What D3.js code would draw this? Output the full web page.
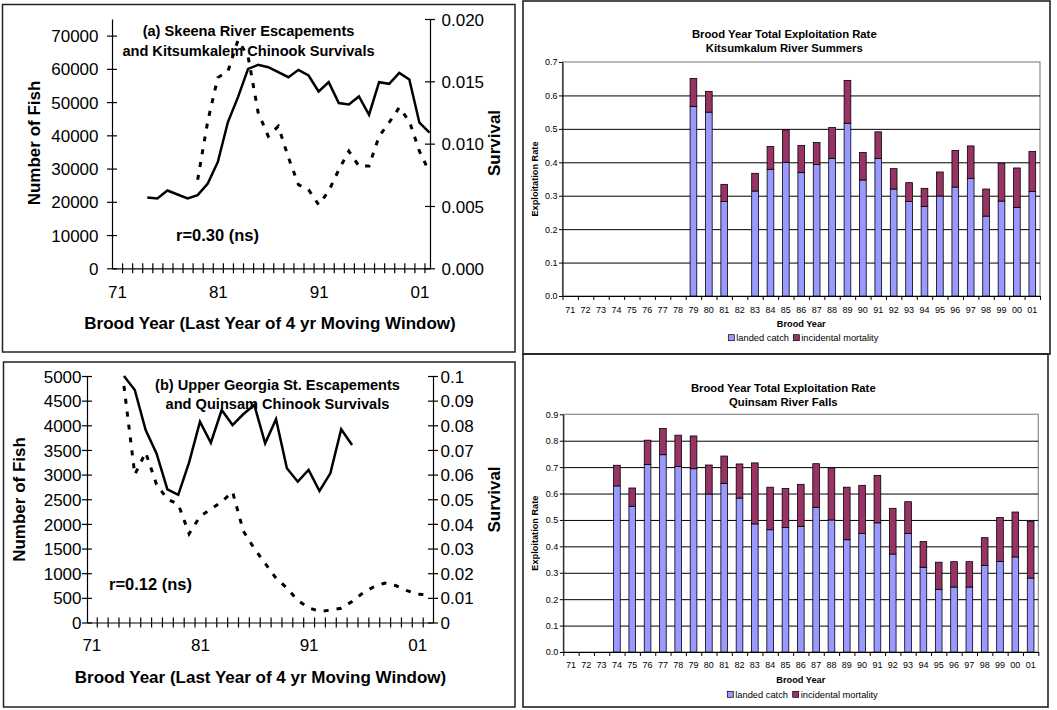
<!DOCTYPE html>
<html><head><meta charset="utf-8">
<script src="https://cdn.jsdelivr.net/npm/d3@7"></script>
<style>
body{margin:0;background:#fff;}
svg{display:block;}
text{font-family:"Liberation Sans",Arial,sans-serif;fill:#000;}
</style>
</head><body>
<svg id="c" width="1057" height="710"></svg>
<script>
// ---------------- DATA ----------------
// (a) Skeena escapement (4-yr moving window) and Kitsumkalum survival
const escYearsA = d3.range(74, 103);
const escapementA = [21300,21000,23400,22200,21000,22000,25500,32000,44000,51500,60000,61200,60500,59000,57500,59700,58000,53200,56000,49700,49300,51700,46200,56000,55500,58800,56800,43800,40800];
const survYearsA = d3.range(79, 103);
const survivalA = [0.0071,0.0118,0.0153,0.0158,0.0183,0.0170,0.0125,0.0106,0.0114,0.0089,0.0067,0.0063,0.0051,0.0062,0.0079,0.0094,0.0082,0.0082,0.0106,0.0117,0.0129,0.0118,0.0094,0.0077];
// (b) Upper Georgia St. escapement and Quinsam survival
const escYearsB = d3.range(74, 96);
const escapementB = [5000,4716,3905,3430,2700,2590,3250,4073,3647,4310,4006,4229,4412,3635,4122,3128,2856,3093,2667,3026,3919,3600];
const survYearsB = d3.range(74, 103);
const survivalB = [0.096,0.060,0.069,0.056,0.050,0.048,0.036,0.043,0.046,0.049,0.053,0.037,0.030,0.024,0.018,0.014,0.009,0.006,0.0045,0.005,0.0058,0.0085,0.012,0.0145,0.016,0.015,0.013,0.0115,0.0112];
const xLabelYears = [71, 81, 91, 101];
// Exploitation-rate bar charts
const barYears = d3.range(71, 102);
const kitLanded = [null,null,null,null,null,null,null,null,.567,.550,.283,null,.314,.379,.400,.369,.393,.412,.517,.347,.411,.320,.283,.268,.299,.326,.352,.239,.284,.265,.313];
const kitIncidental = [null,null,null,null,null,null,null,null,.084,.062,.051,null,.053,.068,.097,.081,.066,.092,.128,.082,.080,.061,.056,.054,.072,.109,.097,.081,.113,.118,.119];
const quinLanded = [null,null,null,.629,.552,.710,.747,.702,.694,.598,.638,.583,.485,.463,.471,.476,.548,.500,.425,.449,.489,.371,.449,.321,.237,.246,.246,.328,.343,.360,.280];
const quinIncidental = [null,null,null,.078,.069,.092,.099,.119,.124,.110,.104,.129,.231,.161,.148,.159,.165,.197,.199,.182,.179,.173,.120,.097,.103,.096,.096,.105,.166,.170,.214];
const legendLabels = ["landed catch", "incidental mortality"];

// ---------------- DRAW ----------------
const svg = d3.select("#c");
const yrFmt = d => d3.format("02d")(d % 100);

// panel boxes
function box(x0,y0,x1,y1,w){
  svg.append("rect").attr("x",x0).attr("y",y0).attr("width",x1-x0).attr("height",y1-y0)
    .attr("fill","none").attr("stroke","#222").attr("stroke-width",w);
}
box(2.5,4.5,515,352,1.5);
box(3.5,362,515,707,1.5);
box(523,1,1050,354,1.6);
box(523,354,1048,707,1.6);

function linePanel(c){
  const g = svg.append("g");
  const x = d3.scaleLinear().domain(c.xDomain).range([c.L,c.R]);
  const yL = d3.scaleLinear().domain([0,c.leftMax]).range([c.B,c.T]);
  const yR = d3.scaleLinear().domain([0,c.rightMax]).range([c.B,c.T]);

  // title & annotation
  c.title.forEach((t,i)=>{
    g.append("text").attr("x",c.titleX).attr("y",c.titleY[i]).attr("text-anchor","middle")
      .style("font-size","14.6px").style("font-weight","bold").text(t);
  });
  g.append("text").attr("x",c.rX).attr("y",c.rY).attr("text-anchor","middle")
    .style("font-size","16.5px").style("font-weight","bold").text(c.rText);

  // left axis (cross ticks)
  const la = g.append("g").attr("transform",`translate(${c.L},0)`)
    .call(d3.axisLeft(yL).tickValues(c.leftTicks).tickSizeInner(5).tickSizeOuter(0).tickFormat(d3.format("d")));
  la.append("g").call(d3.axisRight(yL).tickValues(c.leftTicks).tickSizeInner(5).tickSizeOuter(0).tickFormat(""))
    .select(".domain").remove();
  la.selectAll("text").attr("x",-c.leftPad).attr("dy","0.36em").style("font-size","17px");

  // right axis
  const ra = g.append("g").attr("transform",`translate(${c.R},0)`)
    .call(d3.axisRight(yR).tickValues(c.rightTicks).tickSizeInner(5).tickSizeOuter(0).tickFormat(c.rightFmt));
  ra.append("g").call(d3.axisLeft(yR).tickValues(c.rightTicks).tickSizeInner(5).tickSizeOuter(0).tickFormat(""))
    .select(".domain").remove();
  ra.selectAll("text").attr("x",c.rightPad).attr("dy","0.36em").style("font-size","17px");

  // x axis
  const xTicks = d3.range(71.5, c.xDomain[1], 1);
  const xa = g.append("g").attr("transform",`translate(0,${c.B})`)
    .call(d3.axisBottom(x).tickValues(xTicks).tickSizeInner(5).tickSizeOuter(0).tickFormat(""));
  xa.append("g").call(d3.axisTop(x).tickValues(xTicks).tickSizeInner(5).tickSizeOuter(0).tickFormat(""))
    .select(".domain").remove();
  const xl = g.append("g").attr("transform",`translate(0,${c.B})`)
    .call(d3.axisBottom(x).tickValues(xLabelYears).tickSize(0).tickFormat(yrFmt));
  xl.select(".domain").remove();
  xl.selectAll("text").attr("y",c.xLabelOff).attr("dy",null).style("font-size","17px");
  g.selectAll(".domain, .tick line").attr("stroke-width",1.2);

  // axis titles
  g.append("text").attr("x",(c.L+c.R)/2 + c.xTitleShift).attr("y",c.xTitleY).attr("text-anchor","middle")
    .style("font-size","17px").style("font-weight","bold").text("Brood Year (Last Year of 4 yr Moving Window)");
  g.append("text").attr("transform",`translate(${c.yTitleLX},${c.yTitleCY}) rotate(-90)`).attr("text-anchor","middle")
    .style("font-size","17px").style("font-weight","bold").text("Number of Fish");
  g.append("text").attr("transform",`translate(${c.yTitleRX},${c.yTitleCY}) rotate(-90)`).attr("text-anchor","middle")
    .style("font-size","17px").style("font-weight","bold").text("Survival");

  // lines
  const lineL = d3.line().x(d=>x(d[0])).y(d=>yL(d[1]));
  const lineR = d3.line().x(d=>x(d[0])).y(d=>yR(d[1]));
  g.append("path").datum(d3.zip(c.escYears,c.esc)).attr("d",lineL)
    .attr("fill","none").attr("stroke","#000").attr("stroke-width",2.5).attr("stroke-linejoin","miter");
  g.append("path").datum(d3.zip(c.survYears,c.surv)).attr("d",lineR)
    .attr("fill","none").attr("stroke","#000").attr("stroke-width",3).attr("stroke-dasharray","5,8");
}

linePanel({
  L:112, R:430, T:19, B:268.3, xDomain:[70.5,102.05],
  leftMax:75000, leftTicks:d3.range(0,70001,10000), leftPad:13.5,
  rightMax:0.02, rightTicks:[0,0.005,0.01,0.015,0.02], rightFmt:d3.format(".3f"), rightPad:11.5,
  xLabelOff:30, xTitleY:329, xTitleShift:-1, yTitleLX:40, yTitleRX:500, yTitleCY:143,
  title:["(a) Skeena River Escapements","and Kitsumkalem Chinook Survivals"], titleX:248.5, titleY:[36,55.5],
  rText:"r=0.30 (ns)", rX:217.5, rY:240.5,
  escYears:escYearsA, esc:escapementA, survYears:survYearsA, surv:survivalA
});

linePanel({
  L:87, R:433, T:376, B:622.5, xDomain:[70.6,102.45],
  leftMax:5000, leftTicks:d3.range(0,5001,500), leftPad:5.5,
  rightMax:0.1, rightTicks:d3.range(0,11).map(d=>d/100), rightFmt:d=>String(+d.toFixed(2)), rightPad:7.5,
  xLabelOff:28.5, xTitleY:683, xTitleShift:0.5, yTitleLX:25, yTitleRX:500, yTitleCY:499.5,
  title:["(b) Upper Georgia St. Escapements","and Quinsam Chinook Survivals"], titleX:277.5, titleY:[390,409],
  rText:"r=0.12 (ns)", rX:150.5, rY:589.5,
  escYears:escYearsB, esc:escapementB, survYears:survYearsB, surv:survivalB
});

function barPanel(c){
  const g = svg.append("g");
  const n = barYears.length;
  const x = d3.scaleBand().domain(barYears).range([c.L,c.R]).paddingInner(0.565).paddingOuter(0.2825);
  const xb = d3.scaleLinear().domain([0,n]).range([c.L,c.R]);
  const y = d3.scaleLinear().domain([0,c.max]).range([c.B,c.T]);
  const nGrid = Math.round(c.max*10);

  g.append("rect").attr("x",c.L).attr("y",c.T).attr("width",c.R-c.L).attr("height",c.B-c.T)
    .attr("fill","#fff").attr("stroke","#8a8a8a").attr("stroke-width",1.2);
  const grid = g.append("g").attr("transform",`translate(${c.L},0)`)
    .call(d3.axisLeft(y).tickValues(d3.range(1,nGrid).map(d=>d/10)).tickSize(-(c.R-c.L)).tickFormat(""));
  grid.select(".domain").remove();
  grid.selectAll("line").attr("stroke","#000").attr("stroke-width",1);

  const rows = barYears.map((yr,i)=>({yr, landed:c.landed[i], inc:c.inc[i]})).filter(d=>d.landed!=null);
  g.selectAll(".land").data(rows).join("rect")
    .attr("x",d=>x(d.yr)).attr("width",x.bandwidth())
    .attr("y",d=>y(d.landed)).attr("height",d=>y(0)-y(d.landed))
    .attr("fill","#9999FF").attr("stroke","#000").attr("stroke-width",0.8);
  g.selectAll(".inc").data(rows).join("rect")
    .attr("x",d=>x(d.yr)).attr("width",x.bandwidth())
    .attr("y",d=>y(d.landed+d.inc)).attr("height",d=>y(d.landed)-y(d.landed+d.inc))
    .attr("fill","#993366").attr("stroke","#000").attr("stroke-width",0.8);

  const ya = g.append("g").attr("transform",`translate(${c.L},0)`)
    .call(d3.axisLeft(y).tickValues(d3.range(0,nGrid+1).map(d=>d/10)).tickSizeInner(3.5).tickSizeOuter(0).tickFormat(d3.format(".1f")));
  ya.selectAll("text").attr("x",-5).style("font-size","9px");
  const xa = g.append("g").attr("transform",`translate(0,${c.B})`)
    .call(d3.axisBottom(xb).tickValues(d3.range(0,n+1)).tickSizeInner(4).tickSizeOuter(0).tickFormat(""));
  const xl = g.append("g").attr("transform",`translate(0,${c.B})`)
    .call(d3.axisBottom(x).tickSize(0).tickFormat(yrFmt));
  xl.select(".domain").remove();
  xl.selectAll("text").attr("y",c.xLabelOff).attr("dy",null).style("font-size","9px");

  c.title.forEach((t,i)=>{
    g.append("text").attr("x",c.titleX).attr("y",c.titleY[i]).attr("text-anchor","middle")
      .style("font-size","11.3px").style("font-weight","bold").text(t);
  });
  g.append("text").attr("x",(c.L+c.R)/2).attr("y",c.xTitleY).attr("text-anchor","middle")
    .style("font-size","9.2px").style("font-weight","bold").text("Brood Year");
  g.append("text").attr("transform",`translate(537.5,${(c.T+c.B)/2}) rotate(-90)`).attr("text-anchor","middle")
    .style("font-size","9.2px").style("font-weight","bold").text("Exploitation Rate");

  // legend
  const colors = ["#9999FF","#993366"];
  const lg = g.append("g");
  legendLabels.forEach((lab,i)=>{
    lg.append("rect").attr("x",c.legX[i]).attr("y",c.legY-3).attr("width",6).attr("height",6)
      .attr("fill",colors[i]).attr("stroke","#000").attr("stroke-width",0.7);
    lg.append("text").attr("x",c.legX[i]+8).attr("y",c.legY+3.3).style("font-size","9.3px").text(lab);
  });
}

barPanel({
  L:562.5, R:1040, T:62, B:296, max:0.7,
  landed:kitLanded, inc:kitIncidental,
  title:["Brood Year Total Exploitation Rate","Kitsumkalum River Summers"], titleX:784.3, titleY:[37.7,51.7],
  xLabelOff:16.7, xTitleY:327.3, legX:[728.3,793.3], legY:337.7
});
barPanel({
  L:563.3, R:1038.3, T:414.3, B:652, max:0.9,
  landed:quinLanded, inc:quinIncidental,
  title:["Brood Year Total Exploitation Rate","Quinsam River Falls"], titleX:783.3, titleY:[391.7,405.7],
  xLabelOff:15.7, xTitleY:683.3, legX:[727.3,792.7], legY:694.3
});
</script>
</body></html>
